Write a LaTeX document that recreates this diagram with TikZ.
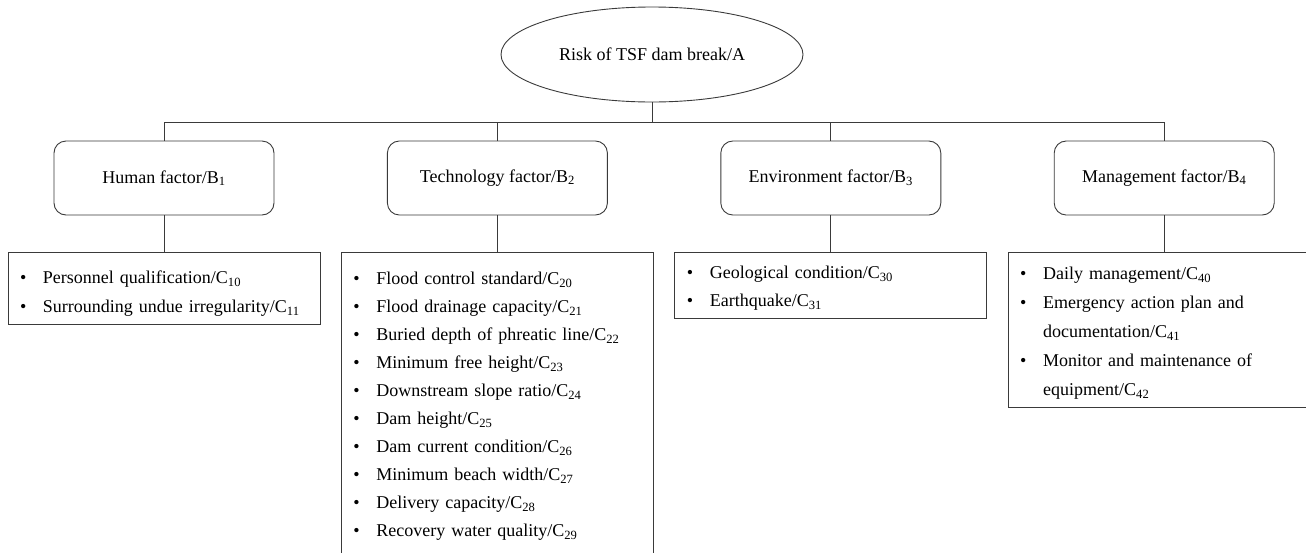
\documentclass[tikz,border=0pt]{standalone}
\usepackage{fontspec}
\setmainfont{Liberation Serif}
\usepackage{xcolor}
\usepackage{tikz}
\usetikzlibrary{positioning, shapes.geometric}
\definecolor{lineColor}{HTML}{3A3A3A}
\newcommand{\itm}[1]{\makebox[23pt][l]{\textbullet}#1}
\newcommand{\cont}{\hspace*{23pt}}
\newcommand{\lead}[1]{\rule{0pt}{#1pt}}

\begin{document}
\begin{tikzpicture}[
  x=1pt, y=1pt,
  node distance=37pt and 112.5pt,
  goal/.style={
    ellipse,
    draw=lineColor,
    line width=0.9pt,
    minimum width=302pt,
    minimum height=95pt,
    inner sep=0pt,
    font=\fontsize{18}{22}\selectfont
  },
  factor/.style={
    rectangle,
    draw=lineColor,
    line width=0.9pt,
    rounded corners=12pt,
    minimum width=220pt,
    minimum height=74pt,
    inner sep=0pt,
    font=\fontsize{18}{22}\selectfont
  },
  items/.style={
    rectangle,
    draw=lineColor,
    line width=0.9pt,
    align=left,
    text width=288pt,
    inner xsep=12pt,
    inner ysep=8pt,
    font=\fontsize{18}{29}\selectfont
  },
  link/.style={
    draw=lineColor,
    line width=0.9pt
  }
]
  \useasboundingbox (0,0) rectangle (1306,-552);
  \clip (0,0) rectangle (1306,-552);

  % Define nodes
  \node[goal] (A) at (652,-54.5) {Risk of TSF dam break/A};
  \node[factor] (B1) at (164,-178) {Human factor/B\textsubscript{1}};
  \node[factor] (B2) [right=of B1] {Technology factor/B\textsubscript{2}};
  \node[factor] (B3) [right=of B2] {Environment factor/B\textsubscript{3}};
  \node[factor] (B4) [right=of B3] {Management factor/B\textsubscript{4}};

  \node[items] (C1) [below=of B1] {\lead{23}\itm{Personnel qualification/C\textsubscript{10}}
    \\\itm{Surrounding undue irregularity/C\textsubscript{11}}};
  \node[items, font=\fontsize{18}{28}\selectfont] (C2) [below=of B2] {\lead{24}\itm{Flood control standard/C\textsubscript{20}}
    \\\itm{Flood drainage capacity/C\textsubscript{21}}
    \\\itm{Buried depth of phreatic line/C\textsubscript{22}}
    \\\itm{Minimum free height/C\textsubscript{23}}
    \\\itm{Downstream slope ratio/C\textsubscript{24}}
    \\\itm{Dam height/C\textsubscript{25}}
    \\\itm{Dam current condition/C\textsubscript{26}}
    \\\itm{Minimum beach width/C\textsubscript{27}}
    \\\itm{Delivery capacity/C\textsubscript{28}}
    \\\itm{Recovery water quality/C\textsubscript{29}}\rule[-20pt]{0pt}{20pt}};
  \node[items, font=\fontsize{18}{28}\selectfont] (C3) [below=of B3] {\lead{18}\itm{Geological condition/C\textsubscript{30}}
    \\\itm{Earthquake/C\textsubscript{31}}};
  \node[items] (C4) [below=of B4] {\lead{19}\itm{Daily management/C\textsubscript{40}}
    \\\itm{Emergency action plan and}
    \\\cont documentation/C\textsubscript{41}
    \\\itm{Monitor and maintenance of}
    \\\cont equipment/C\textsubscript{42}};

  % Connect nodes with lines
  \draw[link] (A.south) -- ++(0,-20) -| (B1.north);
  \draw[link] (A.south) -- ++(0,-20) -| (B2.north);
  \draw[link] (A.south) -- ++(0,-20) -| (B3.north);
  \draw[link] (A.south) -- ++(0,-20) -| (B4.north);
  \draw[link] (B1.south) -- (C1.north);
  \draw[link] (B2.south) -- (C2.north);
  \draw[link] (B3.south) -- (C3.north);
  \draw[link] (B4.south) -- (C4.north);
\end{tikzpicture}
\end{document}
